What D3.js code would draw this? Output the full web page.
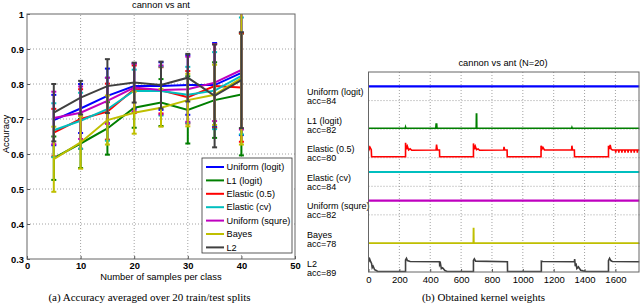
<!DOCTYPE html>
<html>
<head>
<meta charset="utf-8">
<script src="https://cdnjs.cloudflare.com/ajax/libs/d3/7.8.5/d3.min.js"></script>
<style>
  body { margin: 0; background: #fff; }
  svg { display: block; font-family: "Liberation Sans", Arial, sans-serif; }
  .grid line { stroke: #8a8a8a; stroke-width: 0.8; stroke-dasharray: 1,2; }
  .caption { font-family: "Liberation Serif", "Times New Roman", serif; font-size: 11px; }
</style>
</head>
<body>
<svg id="chart" width="640" height="306"></svg>
<script>
// ---- data: left panel (accuracy vs samples per class) ----
const sampleSizes = [5, 10, 15, 20, 25, 30, 35, 40];
const methods = ['Uniform (logit)', 'L1 (logit)', 'Elastic (0.5)', 'Elastic (cv)', 'Uniform (squre)', 'Bayes', 'L2'];
const colors = ['#0000ff', '#007f00', '#ff0000', '#00bfbf', '#bf00bf', '#bfbf00', '#404040'];

const uniformLogitAcc = [0.697, 0.730, 0.766, 0.794, 0.794, 0.797, 0.797, 0.832];
const uniformLogitErr = [0.072, 0.070, 0.078, 0.065, 0.068, 0.085, 0.120, 0.178];
const l1Acc = [0.588, 0.630, 0.673, 0.732, 0.747, 0.726, 0.754, 0.770];
const l1Err = [0.062, 0.070, 0.075, 0.057, 0.067, 0.096, 0.108, 0.174];
const elastic05Acc = [0.661, 0.700, 0.721, 0.785, 0.782, 0.762, 0.794, 0.790];
const elastic05Err = [0.068, 0.085, 0.080, 0.068, 0.066, 0.075, 0.120, 0.155];
const elasticCvAcc = [0.668, 0.695, 0.728, 0.781, 0.780, 0.769, 0.781, 0.823];
const elasticCvErr = [0.077, 0.080, 0.090, 0.060, 0.070, 0.080, 0.110, 0.167];
const uniformSqAcc = [0.703, 0.718, 0.752, 0.790, 0.783, 0.785, 0.804, 0.840];
const uniformSqErr = [0.075, 0.075, 0.066, 0.068, 0.070, 0.093, 0.110, 0.170];
const bayesAcc = [0.585, 0.633, 0.697, 0.718, 0.732, 0.754, 0.769, 0.817];
const bayesErr = [0.093, 0.075, 0.070, 0.060, 0.054, 0.075, 0.086, 0.190];
const l2Acc = [0.718, 0.761, 0.794, 0.804, 0.797, 0.818, 0.766, 0.811];
const l2Err = [0.082, 0.048, 0.077, 0.057, 0.067, 0.068, 0.147, 0.137];

const xTicksLeft = [0, 10, 20, 30, 40, 50];
const yTicksLeft = [0.3, 0.4, 0.5, 0.6, 0.7, 0.8, 0.9, 1];

// ---- data: right panel (kernel weights, relative to row height) ----
const kernelCount = 1756;
const accLabels = [84, 82, 80, 84, 82, 78, 89];
const xTicksRight = [0, 200, 400, 600, 800, 1000, 1200, 1400, 1600];

const uniformLogitW = [[0, 0.5], [1756, 0.5]];
const l1W = [[0, 0.03], [238, 0.03], [240, 0.07], [242, 0.03], [436, 0.03], [438, 0.18], [442, 0.18], [444, 0.03],
  [698, 0.03], [699, 0.53], [701, 0.53], [702, 0.03], [1316, 0.03], [1318, 0.06], [1320, 0.03], [1756, 0.03]];
const elastic05W = [[0, 0.42], [5, 0.3], [10, 0.36], [18, 0.28], [20, 0.035], [240, 0.035], [240, 0.52], [246, 0.3],
  [252, 0.4], [260, 0.27], [270, 0.31], [280, 0.26], [438, 0.27], [441, 0.46], [446, 0.27], [460, 0.27], [461, 0.035],
  [680, 0.035], [680, 0.5], [686, 0.3], [692, 0.4], [700, 0.28], [710, 0.31], [720, 0.26], [876, 0.27], [878, 0.38],
  [882, 0.27], [898, 0.27], [899, 0.035], [1118, 0.035], [1118, 0.42], [1124, 0.3], [1130, 0.36], [1140, 0.27],
  [1316, 0.27], [1318, 0.42], [1322, 0.27], [1334, 0.27], [1335, 0.035], [1555, 0.035], [1555, 0.42], [1560, 0.3],
  [1566, 0.45], [1572, 0.3], [1580, 0.27], [1600, 0.27], [1602, 0.18], [1604, 0.27], [1620, 0.27], [1622, 0.18],
  [1624, 0.27], [1640, 0.27], [1642, 0.18], [1644, 0.27], [1660, 0.27], [1662, 0.18], [1664, 0.27], [1680, 0.27],
  [1682, 0.18], [1684, 0.27], [1700, 0.27], [1702, 0.18], [1704, 0.27], [1720, 0.27], [1722, 0.18], [1724, 0.27],
  [1740, 0.27], [1742, 0.18], [1744, 0.27], [1756, 0.27]];
const elasticCvW = [[0, 0.5], [1756, 0.5]];
const uniformSqW = [[0, 0.5], [1756, 0.5]];
const bayesW = [[0, 0.01], [679, 0.01], [680, 0.52], [682, 0.52], [683, 0.01], [1756, 0.01]];
const l2W = [[0, 0.51], [4, 0.4], [8, 0.45], [14, 0.36], [20, 0.3], [24, 0.15], [30, 0.2], [40, 0.08], [50, 0.05],
  [60, 0.02], [240, 0.02], [240, 0.42], [246, 0.48], [252, 0.4], [270, 0.37], [460, 0.36], [461, 0.25], [466, 0.3],
  [472, 0.12], [480, 0.15], [495, 0.05], [510, 0.02], [680, 0.02], [680, 0.4], [686, 0.46], [694, 0.38], [900, 0.36],
  [901, 0.02], [1120, 0.02], [1120, 0.38], [1130, 0.37], [1334, 0.36], [1336, 0.45], [1340, 0.2], [1345, 0.3],
  [1350, 0.12], [1360, 0.18], [1375, 0.06], [1390, 0.04], [1410, 0.02], [1555, 0.02], [1555, 0.4], [1562, 0.48],
  [1570, 0.4], [1580, 0.37], [1756, 0.36]];

const accMeans = [uniformLogitAcc, l1Acc, elastic05Acc, elasticCvAcc, uniformSqAcc, bayesAcc, l2Acc];
const accErrs = [uniformLogitErr, l1Err, elastic05Err, elasticCvErr, uniformSqErr, bayesErr, l2Err];
const weights = [uniformLogitW, l1W, elastic05W, elasticCvW, uniformSqW, bayesW, l2W];

const svg = d3.select('#chart');

// ================= left panel =================
const xL = d3.scaleLinear().domain([0, 50]).range([27, 295]);
const yL = d3.scaleLinear().domain([0.3, 1]).range([259, 14]);

const left = svg.append('g');

left.append('g').attr('class', 'grid')
  .selectAll('line').data(xTicksLeft.slice(1, -1)).join('line')
  .attr('x1', d => xL(d)).attr('x2', d => xL(d)).attr('y1', yL(0.3)).attr('y2', yL(1));
left.append('g').attr('class', 'grid')
  .selectAll('line').data(yTicksLeft.slice(1, -1)).join('line')
  .attr('y1', d => yL(d)).attr('y2', d => yL(d)).attr('x1', xL(0)).attr('x2', xL(50));

const fmtY = d => d === 1 ? '1' : d.toFixed(1);
const axY = left.append('g').attr('transform', `translate(${xL(0)},0)`)
  .call(d3.axisLeft(yL).tickValues(yTicksLeft).tickSize(-3).tickPadding(3).tickFormat(fmtY));
const axX = left.append('g').attr('transform', `translate(0,${yL(0.3)})`)
  .call(d3.axisBottom(xL).tickValues(xTicksLeft).tickSize(-3).tickPadding(3.5));
[axY, axX].forEach(a => {
  a.select('.domain').remove();
  a.selectAll('text').attr('font-size', 9.4).attr('font-family', '"Liberation Sans", Arial, sans-serif')
    .attr('fill', '#000').attr('font-weight', 600);
  a.selectAll('line').attr('stroke', '#555');
});

// series
const lineL = d3.line().x(d => xL(d.x)).y(d => yL(d.m));
methods.forEach((name, i) => {
  const pts = sampleSizes.map((x, j) => ({x: x, m: accMeans[i][j], e: accErrs[i][j]}));
  const g = left.append('g');
  g.append('path').datum(pts)
    .attr('d', lineL).attr('fill', 'none').attr('stroke', colors[i]).attr('stroke-width', 2);
  const bars = g.selectAll('g.eb').data(pts).join('g');
  bars.append('line')
    .attr('x1', d => xL(d.x)).attr('x2', d => xL(d.x))
    .attr('y1', d => yL(d.m - d.e)).attr('y2', d => yL(Math.min(d.m + d.e, 1)))
    .attr('stroke', colors[i]).attr('stroke-width', 2);
  [-1, 1].forEach(s => {
    bars.filter(d => s < 0 || d.m + d.e <= 1.001).append('line')
      .attr('x1', d => xL(d.x) - 2.5).attr('x2', d => xL(d.x) + 2.5)
      .attr('y1', d => yL(d.m + s * d.e)).attr('y2', d => yL(d.m + s * d.e))
      .attr('stroke', colors[i]).attr('stroke-width', 2);
  });
});

left.append('rect')
  .attr('x', xL(0)).attr('y', yL(1)).attr('width', xL(50) - xL(0)).attr('height', yL(0.3) - yL(1))
  .attr('fill', 'none').attr('stroke', '#666').attr('stroke-width', 1);

// legend
const lg = left.append('g').attr('transform', 'translate(202,158)');
lg.append('rect').attr('width', 90).attr('height', 95).attr('fill', '#fff').attr('stroke', '#333').attr('stroke-width', 0.8);
const item = lg.selectAll('g').data(methods).join('g')
  .attr('transform', (d, i) => `translate(0,${9 + i * 13.4})`);
item.append('line').attr('x1', 4).attr('x2', 22).attr('stroke', (d, i) => colors[i]).attr('stroke-width', 2);
item.append('text').attr('x', 24.5).attr('dy', '0.35em').attr('font-size', 9.2).text(d => d);

left.append('text').attr('x', 161).attr('y', 8).attr('text-anchor', 'middle').attr('font-size', 9.3)
  .text('cannon vs ant');
left.append('text').attr('x', 161).attr('y', 279.5).attr('text-anchor', 'middle').attr('font-size', 9.4)
  .text('Number of samples per class');
left.append('text').attr('transform', 'translate(8.5,134) rotate(-90)').attr('text-anchor', 'middle')
  .attr('font-size', 9.4).text('Accuracy');
left.append('text').attr('class', 'caption').attr('x', 149.5).attr('y', 300.5).attr('text-anchor', 'middle')
  .text('(a)  Accuracy averaged over 20 train/test splits');

// ================= right panel =================
const xR = d3.scaleLinear().domain([0, kernelCount]).range([368.5, 639.5]);
const rows = d3.scaleBand().domain(methods).range([72, 272]);
const bw = rows.bandwidth();

const right = svg.append('g');
right.append('clipPath').attr('id', 'clipR').append('rect')
  .attr('x', xR(0)).attr('y', 60).attr('width', xR(kernelCount) - xR(0)).attr('height', 212.5);

right.append('g').attr('class', 'grid')
  .selectAll('line').data(xTicksRight.slice(1)).join('line')
  .attr('x1', d => xR(d)).attr('x2', d => xR(d)).attr('y1', 72).attr('y2', 272);
right.append('g').attr('class', 'grid')
  .selectAll('line').data(methods.slice(1)).join('line')
  .attr('y1', d => rows(d)).attr('y2', d => rows(d)).attr('x1', xR(0)).attr('x2', xR(kernelCount));

const axR = right.append('g').attr('transform', 'translate(0,272)')
  .call(d3.axisBottom(xR).tickValues(xTicksRight).tickSize(-3).tickPadding(4).tickFormat(d3.format('d')));
axR.select('.domain').remove();
axR.selectAll('text').attr('font-size', 9.5).attr('font-family', '"Liberation Sans", Arial, sans-serif').attr('fill', '#000');
axR.selectAll('line').attr('stroke', '#555');

const plot = right.append('g').attr('clip-path', 'url(#clipR)');
methods.forEach((name, i) => {
  const top = rows(name);
  const yr = d3.scaleLinear().domain([0, 1]).range([top + bw, top]);
  const ln = d3.line().x(d => xR(d[0])).y(d => yr(d[1]));
  const constant = weights[i].length === 2;
  plot.append('path').datum(weights[i])
    .attr('d', ln).attr('fill', 'none').attr('stroke', colors[i])
    .attr('stroke-width', constant ? 2.2 : 1.6).attr('stroke-linejoin', 'miter');

  right.append('text').attr('x', 307).attr('y', top + bw - 5.5).attr('font-size', 9).text(name);
  right.append('text').attr('x', 307).attr('y', top + bw + 3.5).attr('font-size', 9).text('acc=' + accLabels[i]);
});

right.append('rect')
  .attr('x', xR(0)).attr('y', 72).attr('width', xR(kernelCount) - xR(0) - 0.5).attr('height', 200)
  .attr('fill', 'none').attr('stroke', '#666').attr('stroke-width', 1);

right.append('text').attr('x', 503).attr('y', 65.5).attr('text-anchor', 'middle').attr('font-size', 9.3)
  .text('cannon vs ant (N=20)');
right.append('text').attr('class', 'caption').attr('x', 483.5).attr('y', 300.5).attr('text-anchor', 'middle')
  .text('(b)  Obtained kernel weights');
</script>
</body>
</html>
